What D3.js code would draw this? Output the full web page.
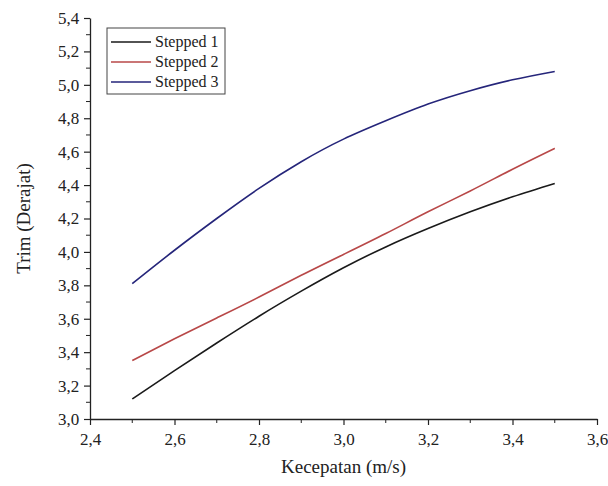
<!DOCTYPE html>
<html>
<head>
<meta charset="utf-8">
<script src="https://cdn.jsdelivr.net/npm/d3@7"></script>
<style>
  body { margin: 0; background: #fff; }
  svg text { font-family: "Times New Roman", "Liberation Serif", serif; fill: #222; }
</style>
</head>
<body>
<div id="chart"></div>
<script>
// data
var speeds = [2.5, 2.6, 2.7, 2.8, 2.9, 3.0, 3.1, 3.2, 3.3, 3.4, 3.5]
var stepped1 = [3.12, 3.29, 3.455, 3.615, 3.765, 3.905, 4.03, 4.14, 4.24, 4.33, 4.41]
var stepped2 = [3.35, 3.48, 3.605, 3.73, 3.86, 3.985, 4.11, 4.24, 4.365, 4.495, 4.62]
var stepped3 = [3.81, 4.01, 4.20, 4.38, 4.54, 4.675, 4.785, 4.885, 4.965, 5.03, 5.08]
var seriesNames = ["Stepped 1", "Stepped 2", "Stepped 3"]
var seriesColors = ["#1a1a1a", "#b84848", "#25257a"]
var xTicks = [2.4, 2.6, 2.8, 3.0, 3.2, 3.4, 3.6]
var yTicks = [3.0, 3.2, 3.4, 3.6, 3.8, 4.0, 4.2, 4.4, 4.6, 4.8, 5.0, 5.2, 5.4]

var W = 608, H = 486
var margin = {left: 90, right: 11, top: 18, bottom: 67}
var serif = "Times New Roman, Liberation Serif, serif"

var svg = d3.select("#chart").append("svg")
    .attr("width", W).attr("height", H)
    .attr("font-family", serif)

var x = d3.scaleLinear().domain([2.4, 3.6]).range([margin.left, W - margin.right])
var y = d3.scaleLinear().domain([3.0, 5.4]).range([H - margin.bottom, margin.top])

var fmt = function(d) { return d3.format(".1f")(d).replace(".", ",") }

// minor ticks
var xMinor = d3.range(2.5, 3.6, 0.2)
var yMinor = d3.range(3.1, 5.4, 0.2)

var xAxis = svg.append("g")
    .attr("transform", "translate(0," + y(3.0) + ")")
    .call(d3.axisBottom(x).tickValues(xTicks).tickFormat(fmt).tickSizeInner(6).tickSizeOuter(0))
xAxis.append("g").selectAll("line").data(xMinor).enter().append("line")
    .attr("x1", function(d) { return x(d) }).attr("x2", function(d) { return x(d) })
    .attr("y1", 0).attr("y2", 4).attr("stroke", "#222")

var yAxis = svg.append("g")
    .attr("transform", "translate(" + x(2.4) + ",0)")
    .call(d3.axisLeft(y).tickValues(yTicks).tickFormat(fmt).tickSizeInner(6).tickSizeOuter(0))
yAxis.append("g").selectAll("line").data(yMinor).enter().append("line")
    .attr("y1", function(d) { return y(d) }).attr("y2", function(d) { return y(d) })
    .attr("x1", 0).attr("x2", -4).attr("stroke", "#222")

svg.selectAll("g").attr("font-family", serif)
svg.selectAll(".domain").attr("stroke", "#222").attr("stroke-width", 1.3)
svg.selectAll(".tick line").attr("stroke", "#222").attr("stroke-width", 1.2)
xAxis.selectAll(".tick text").attr("font-size", 17).attr("dy", "1.0em").style("font-family", serif)
yAxis.selectAll(".tick text").attr("font-size", 17).attr("dx", "-0.1em").style("font-family", serif)

// axis titles
svg.append("text")
    .attr("x", (x(2.4) + x(3.6)) / 2).attr("y", 473)
    .attr("text-anchor", "middle").attr("font-size", 19)
    .text("Kecepatan (m/s)")
svg.append("text")
    .attr("transform", "translate(30," + ((y(3.0) + y(5.4)) / 2) + ") rotate(-90)")
    .attr("text-anchor", "middle").attr("font-size", 19)
    .text("Trim (Derajat)")

// lines
var allSeries = [stepped1, stepped2, stepped3]
var line = d3.line()
    .x(function(d, i) { return x(speeds[i]) })
    .y(function(d) { return y(d) })
    .curve(d3.curveNatural)

svg.append("g").selectAll("path").data(allSeries).enter().append("path")
    .attr("d", line)
    .attr("fill", "none")
    .attr("stroke", function(d, i) { return seriesColors[i] })
    .attr("stroke-width", 1.6)

// legend
var lg = svg.append("g").attr("transform", "translate(107,28)")
lg.append("rect").attr("width", 118).attr("height", 66)
    .attr("fill", "#fff").attr("stroke", "#444").attr("stroke-width", 1)
seriesNames.forEach(function(name, i) {
    var yy = 14 + i * 20
    lg.append("line").attr("x1", 4).attr("x2", 44).attr("y1", yy).attr("y2", yy)
        .attr("stroke", seriesColors[i]).attr("stroke-width", 1.6)
    lg.append("text").attr("x", 48).attr("y", yy + 5).attr("font-size", 16).text(name)
})
</script>
</body>
</html>
